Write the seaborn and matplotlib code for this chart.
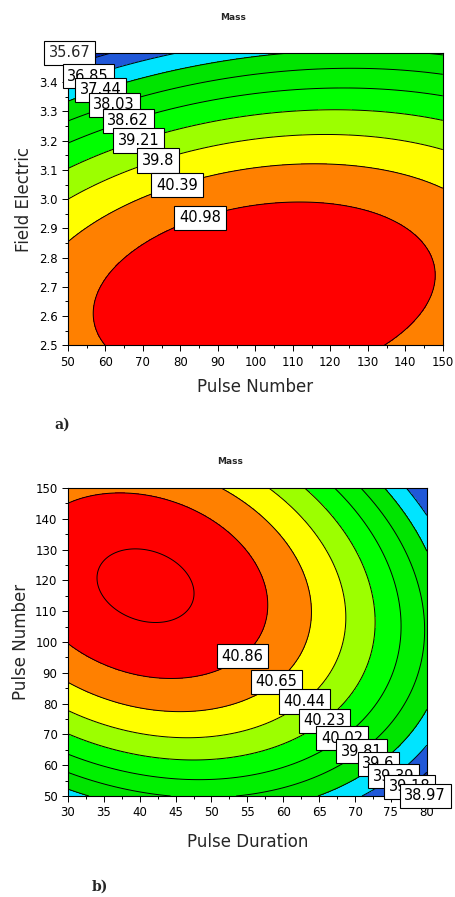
import matplotlib
matplotlib.use("Agg")
import matplotlib.pyplot as plt
from matplotlib.ticker import MultipleLocator, FormatStrFormatter
import numpy as np
import seaborn as sns

sns.set_theme(style="ticks")
plt.rcParams["font.family"] = ["DejaVu Sans"]

# band colours, lowest band -> highest band
band_colors = sns.color_palette(["#00006e", "#0022b4", "#2058d8", "#00e4ff", "#00e400",
                                 "#00f000", "#00ff00", "#9cff00", "#ffff00", "#ff8000",
                                 "#ff0000"])

# ---- a) Mass over Pulse Number / Field Electric
levels_a = [35.67, 36.26, 36.85, 37.44, 38.03, 38.62, 39.21, 39.80, 40.39, 40.98]
fe_ticks = [2.5, 2.6, 2.7, 2.8, 2.9, 3.0, 3.1, 3.2, 3.3, 3.4]
pn_a = [50, 50, 50, 50, 50, 50,
        120, 120, 120, 120, 120, 120,
        150, 150, 150, 150, 150,
        57.2, 147.3, 59.4, 133, 73.3, 140.7,
        50, 61, 76, 98, 50]
fe_a = [3.33, 3.26, 3.19, 3.11, 3.00, 2.85,
        2.986, 3.116, 3.212, 3.298, 3.366, 3.435,
        3.425, 3.35, 3.277, 3.178, 3.065,
        2.63, 2.747, 2.5, 2.5, 2.894, 2.894,
        3.40, 3.45, 3.5, 3.5, 3.5]
mass_a = [37.44, 38.03, 38.62, 39.21, 39.80, 40.39,
          40.98, 40.39, 39.80, 39.21, 38.62, 38.03,
          38.03, 38.62, 39.21, 39.80, 40.39,
          40.98, 40.98, 40.98, 40.98, 40.98, 40.98,
          36.85, 36.85, 36.85, 37.44, 35.67]
lab_a = [35.67, 36.85, 37.44, 38.03, 38.62, 39.21, 39.80, 40.39, 40.98]
lab_a_x = [50.5, 55.3, 58.5, 62.0, 65.7, 68.9, 74.0, 79.1, 85.2]
lab_a_y = [3.50, 3.425, 3.384, 3.336, 3.281, 3.199, 3.130, 3.048, 2.938]

# ---- b) Mass over Pulse Duration / Pulse Number
levels_b = [38.97, 39.18, 39.39, 39.60, 39.81, 40.02, 40.23, 40.44, 40.65, 40.86, 41.07]
pd_b = [39.6, 42.4, 34.4, 47.4,
        30, 38.2, 51.1, 55.7, 57.6, 30.3, 44.2, 50.7, 57.4,
        30, 44.2, 56.7, 51.2, 64.0,
        30, 44, 58.1, 68.9,
        30, 44, 63.3, 72.8,
        30, 44, 67.5, 76.2,
        30, 44, 71.1, 78.6,
        30, 33, 65.5, 74.4, 80, 80,
        77.2, 80, 80, 71.5,
        80, 74.5, 79.5]
pn_b = [129.2, 106.2, 121.1, 114.6,
        145.1, 147.7, 136.4, 121.1, 113.6, 99.0, 88.3, 90.3, 104,
        86, 77.3, 80.5, 150, 104,
        77.3, 69.2, 150, 104,
        69.8, 62.3, 150, 104,
        63.3, 56.2, 150, 104,
        57.5, 51.0, 150, 104,
        52.6, 50, 50, 150, 127.6, 75.6,
        150, 140.6, 65, 50,
        57, 50, 50]
mass_b = [41.07] * 4 + [40.86] * 9 + [40.65] * 5 + [40.44] * 4 + [40.23] * 4 \
    + [40.02] * 4 + [39.81] * 4 + [39.60] * 6 + [39.39] * 4 + [39.18, 39.18, 38.97]
lab_b = [40.86, 40.65, 40.44, 40.23, 40.02, 39.81, 39.60, 39.39, 39.18, 38.97]
lab_b_x = [54.4, 59.2, 63.3, 66.1, 68.7, 71.5, 73.9, 75.8, 77.9, 79.7]
lab_b_y = [95.1, 86.7, 79.5, 73.4, 67.2, 62.7, 58.4, 55.2, 51.9, 49.7]


def quad_terms(u, v):
    return np.stack([np.ones_like(u), u, v, u * u, v * v, u * v], axis=-1)


def response_surface(px, py, pz, xlim, ylim, n=300):
    # second order response surface fitted to the read contour points
    px, py = np.asarray(px, float), np.asarray(py, float)
    xc, xh = np.mean(xlim), (xlim[1] - xlim[0]) / 2
    yc, yh = np.mean(ylim), (ylim[1] - ylim[0]) / 2
    coef, *_ = np.linalg.lstsq(quad_terms((px - xc) / xh, (py - yc) / yh),
                               np.asarray(pz, float), rcond=None)
    gx, gy = np.meshgrid(np.linspace(*xlim, n), np.linspace(*ylim, n))
    return gx, gy, quad_terms((gx - xc) / xh, (gy - yc) / yh) @ coef


def draw_panel(ax, gx, gy, z, levels, colors, labs, lx, ly):
    ax.contourf(gx, gy, z, levels=levels, colors=colors, extend="both")
    ax.contour(gx, gy, z, levels=levels, colors="black", linewidths=0.7)
    texts = []
    for lev, x, y in zip(labs, lx, ly):
        if z.min() < lev < z.max():
            # one invisible contour per label so clabel snaps to the right level
            one = ax.contour(gx, gy, z, levels=[lev], colors="black", linewidths=0)
            texts += list(ax.clabel(one, manual=[(x, y)], inline=False,
                                    fmt=lambda v: f"{v:g}", fontsize=10.5, colors="black"))
        else:
            texts.append(ax.text(x, y, f"{lev:g}", fontsize=10.5, ha="center", va="center"))
    for t in texts:
        t.set_rotation(0)
        t.set_clip_on(False)
        t.set_zorder(5)
        t.set_bbox(dict(boxstyle="square,pad=0.32", fc="white", ec="black", lw=0.8))
    for s in ax.spines.values():
        s.set_color("black")
        s.set_linewidth(0.8)
    ax.tick_params(which="both", direction="out", colors="black", labelsize=8.5, width=0.7)
    ax.tick_params(which="major", length=4)
    ax.tick_params(which="minor", length=2.5)


fig = plt.figure(figsize=(4.56, 8.97), dpi=100)

ax1 = fig.add_axes([0.149, 0.615, 0.822, 0.326])
gx, gy, z = response_surface(pn_a, fe_a, mass_a, (50, 150), (2.5, 3.5))
draw_panel(ax1, gx, gy, z, levels_a, band_colors, lab_a, lab_a_x, lab_a_y)
ax1.set_xlim(50, 150)
ax1.set_ylim(2.5, 3.5)
ax1.xaxis.set_major_locator(MultipleLocator(10))
ax1.xaxis.set_minor_locator(MultipleLocator(5))
ax1.set_yticks(fe_ticks)
ax1.yaxis.set_minor_locator(MultipleLocator(0.05))
ax1.yaxis.set_major_formatter(FormatStrFormatter("%.1f"))
ax1.set_xlabel("Pulse Number", fontsize=12, labelpad=7)
ax1.set_ylabel("Field Electric", fontsize=12, labelpad=4)

ax2 = fig.add_axes([0.149, 0.1126, 0.787, 0.3434])
gx, gy, z = response_surface(pd_b, pn_b, mass_b, (30, 80), (50, 150))
draw_panel(ax2, gx, gy, z, levels_b, band_colors + ["#ff0000"], lab_b, lab_b_x, lab_b_y)
ax2.set_xlim(30, 80)
ax2.set_ylim(50, 150)
ax2.xaxis.set_major_locator(MultipleLocator(5))
ax2.xaxis.set_minor_locator(MultipleLocator(2.5))
ax2.yaxis.set_major_locator(MultipleLocator(10))
ax2.yaxis.set_minor_locator(MultipleLocator(5))
ax2.set_xlabel("Pulse Duration", fontsize=12, labelpad=10)
ax2.set_ylabel("Pulse Number", fontsize=12, labelpad=4)

fig.text(0.511, 0.981, "Mass", fontsize=6.5, fontweight="bold", ha="center", va="center")
fig.text(0.505, 0.485, "Mass", fontsize=6.5, fontweight="bold", ha="center", va="center")
fig.text(0.136, 0.527, "a)", fontsize=10, fontweight="bold", family="DejaVu Serif",
         ha="center", va="center")
fig.text(0.219, 0.011, "b)", fontsize=10, fontweight="bold", family="DejaVu Serif",
         ha="center", va="center")

fig.savefig("out.png", dpi=100, facecolor="white")
